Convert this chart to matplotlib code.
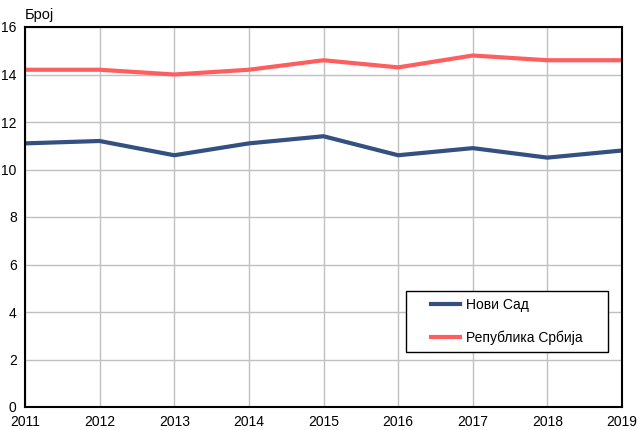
import matplotlib.pyplot as plt
from matplotlib.patches import Rectangle

plt.rcParams['font.family'] = ['Liberation Sans', 'DejaVu Sans']

years = [2011, 2012, 2013, 2014, 2015, 2016, 2017, 2018, 2019]
novi_sad = [11.1, 11.2, 10.6, 11.1, 11.4, 10.6, 10.9, 10.5, 10.8]
srbija = [14.2, 14.2, 14.0, 14.2, 14.6, 14.3, 14.8, 14.6, 14.6]

fig = plt.figure(figsize=(6.38, 4.30), dpi=100)
ax = fig.add_axes([25 / 638, 23 / 430, 597 / 638, 380 / 430])

ax.plot(years, novi_sad, color='#335080', linewidth=3, label='Нови Сад')
ax.plot(years, srbija, color='#ff5e5e', linewidth=3, label='Република Србија')

ax.set_xlim(2011, 2019)
ax.set_ylim(0, 16)
ax.set_xticks(years)
ax.set_yticks(range(0, 17, 2))
ax.grid(True, color='#c0c0c0', linewidth=1)
ax.set_axisbelow(True)
ax.tick_params(length=0, labelsize=10, pad=6)
for s in ax.spines.values():
    s.set_color('black')
    s.set_linewidth(1.5)

fig.text(25 / 638, 1 - 15 / 430, 'Број', fontsize=10.5, va='center')

# legend box drawn separately so the padding can differ in x and y
ax.add_patch(Rectangle((0.638, 0.145), 0.3385, 0.16, transform=ax.transAxes,
                       facecolor='white', edgecolor='black', linewidth=1, zorder=4))
leg = ax.legend(loc='center', bbox_to_anchor=(0.807, 0.225), fontsize=10,
                frameon=False, borderpad=0, labelspacing=1.3,
                handlelength=2.1, handletextpad=0.45, borderaxespad=0)
leg.set_zorder(5)

fig.savefig('out.png', dpi=100)
